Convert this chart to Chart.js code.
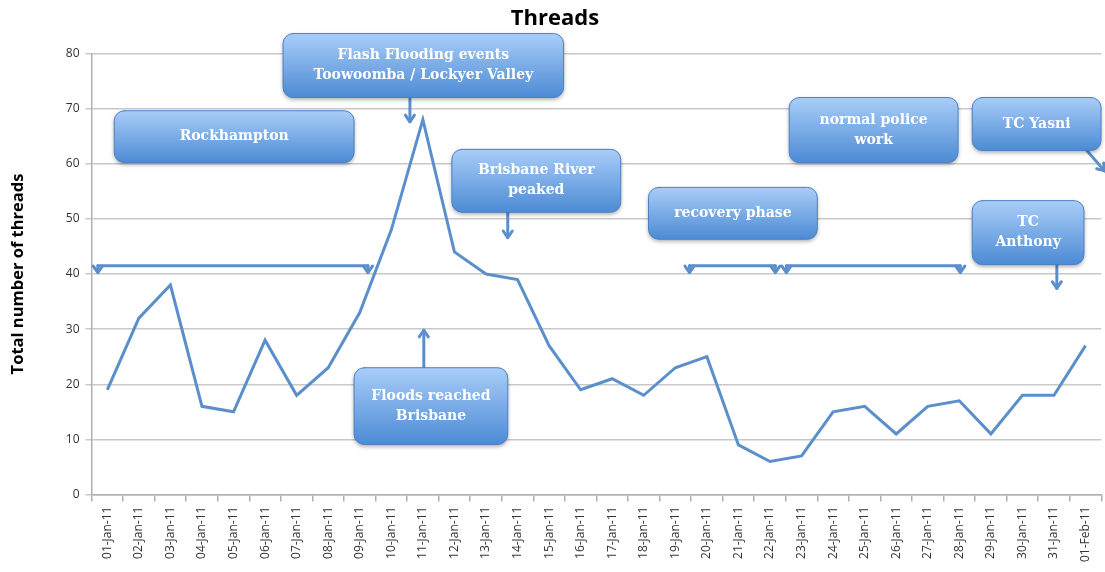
<!DOCTYPE html>
<html>
<head>
<meta charset="utf-8">
<script src="https://cdn.jsdelivr.net/npm/chart.js@4.4.1/dist/chart.umd.min.js"></script>
<style>
  html, body { margin: 0; padding: 0; background: #fff; }
  #wrap { width: 1105px; height: 572px; }
</style>
</head>
<body>
<div id="wrap"><canvas id="threadsChart"></canvas></div>
<script>
const dates = [
  '01-Jan-11', '02-Jan-11', '03-Jan-11', '04-Jan-11', '05-Jan-11', '06-Jan-11', '07-Jan-11', '08-Jan-11',
  '09-Jan-11', '10-Jan-11', '11-Jan-11', '12-Jan-11', '13-Jan-11', '14-Jan-11', '15-Jan-11', '16-Jan-11',
  '17-Jan-11', '18-Jan-11', '19-Jan-11', '20-Jan-11', '21-Jan-11', '22-Jan-11', '23-Jan-11', '24-Jan-11',
  '25-Jan-11', '26-Jan-11', '27-Jan-11', '28-Jan-11', '29-Jan-11', '30-Jan-11', '31-Jan-11', '01-Feb-11'
];
const threads = [19, 32, 38, 16, 15, 28, 18, 23, 33, 48, 68, 44, 40, 39, 27, 19,
                 21, 18, 23, 25, 9, 6, 7, 15, 16, 11, 16, 17, 11, 18, 18, 27];

// callout boxes, in axis units (x = day index, y = threads)
const callouts = [
  { lines: ['Rockhampton'], x0: 0.22, x1: 7.82, y0: 69.6, y1: 60.2 },
  { lines: ['Flash Flooding events', 'Toowoomba / Lockyer Valley'], x0: 5.57, x1: 14.46, y0: 83.6, y1: 72.0 },
  { lines: ['Brisbane River', 'peaked'], x0: 10.92, x1: 16.27, y0: 62.6, y1: 51.2 },
  { lines: ['Floods reached', 'Brisbane'], x0: 7.82, x1: 12.69, y0: 23.0, y1: 9.1 },
  { lines: ['recovery phase'], x0: 17.15, x1: 22.5, y0: 55.7, y1: 46.3 },
  { lines: ['normal police', 'work'], x0: 21.61, x1: 26.96, y0: 72.0, y1: 60.2 },
  { lines: ['TC Yasni'], x0: 27.41, x1: 31.49, y0: 72.0, y1: 62.4 },
  { lines: ['TC', 'Anthony'], x0: 27.41, x1: 30.95, y0: 53.3, y1: 41.7 }
];
// single arrows: from (x0,y0) to tip (x1,y1)
const arrows = [
  { x0: 9.59, y0: 72.0, x1: 9.59, y1: 67.6 },
  { x0: 12.69, y0: 51.2, x1: 12.69, y1: 46.6 },
  { x0: 10.03, y0: 23.0, x1: 10.03, y1: 29.8 },
  { x0: 30.09, y0: 41.7, x1: 30.09, y1: 37.4 },
  { x0: 31.04, y0: 62.4, x1: 31.6, y1: 58.7 }
];
// brackets: horizontal span with downward arrowheads at both ends
const brackets = [
  { x0: -0.3, x1: 8.26, y: 41.5 },
  { x0: 18.45, x1: 21.17, y: 41.5 },
  { x0: 21.52, x1: 27.03, y: 41.5 }
];

const blue = '#5b8fcb';

function arrowHead(ctx, tx, ty, ang) {
  const s = 8;
  ctx.beginPath();
  ctx.moveTo(tx - s * Math.cos(ang - 0.6), ty - s * Math.sin(ang - 0.6));
  ctx.lineTo(tx, ty);
  ctx.lineTo(tx - s * Math.cos(ang + 0.6), ty - s * Math.sin(ang + 0.6));
  ctx.stroke();
}

const calloutPlugin = {
  id: 'callouts',
  afterDraw(chart) {
    const ctx = chart.ctx;
    const xs = chart.scales.x, ys = chart.scales.y;
    ctx.save();
    ctx.strokeStyle = blue;
    ctx.lineWidth = 3;
    ctx.lineCap = 'round';
    ctx.lineJoin = 'round';

    brackets.forEach(b => {
      const a = xs.getPixelForValue(b.x0), c = xs.getPixelForValue(b.x1), y = ys.getPixelForValue(b.y);
      ctx.beginPath();
      ctx.moveTo(a, y);
      ctx.lineTo(c, y);
      ctx.stroke();
      ctx.beginPath();
      ctx.moveTo(a, y);
      ctx.lineTo(a, y + 6);
      ctx.moveTo(c, y);
      ctx.lineTo(c, y + 6);
      ctx.stroke();
      arrowHead(ctx, a, y + 7, Math.PI / 2);
      arrowHead(ctx, c, y + 7, Math.PI / 2);
    });

    arrows.forEach(r => {
      const ax = xs.getPixelForValue(r.x0), ay = ys.getPixelForValue(r.y0);
      const bx = xs.getPixelForValue(r.x1), by = ys.getPixelForValue(r.y1);
      ctx.beginPath();
      ctx.moveTo(ax, ay);
      ctx.lineTo(bx, by);
      ctx.stroke();
      arrowHead(ctx, bx, by, Math.atan2(by - ay, bx - ax));
    });

    callouts.forEach(c => {
      const left = xs.getPixelForValue(c.x0), right = xs.getPixelForValue(c.x1);
      const top = ys.getPixelForValue(c.y0), bottom = ys.getPixelForValue(c.y1);
      const grad = ctx.createLinearGradient(0, top, 0, bottom);
      grad.addColorStop(0, '#a9cdf8');
      grad.addColorStop(1, '#4c8bd5');
      ctx.save();
      ctx.shadowColor = 'rgba(0,0,0,0.35)';
      ctx.shadowBlur = 4;
      ctx.shadowOffsetY = 2;
      ctx.beginPath();
      ctx.roundRect(left, top, right - left, bottom - top, 10);
      ctx.fillStyle = grad;
      ctx.fill();
      ctx.restore();
      ctx.lineWidth = 1;
      ctx.strokeStyle = '#4a80c4';
      ctx.stroke();

      ctx.fillStyle = '#fff';
      ctx.font = 'bold 14px "DejaVu Serif"';
      ctx.textAlign = 'center';
      ctx.textBaseline = 'middle';
      const mid = (top + bottom) / 2, lh = 20;
      c.lines.forEach((t, i) => {
        ctx.fillText(t, (left + right) / 2, mid + (i - (c.lines.length - 1) / 2) * lh);
      });
      ctx.lineWidth = 3;
      ctx.strokeStyle = blue;
    });
    ctx.restore();
  }
};

new Chart(document.getElementById('threadsChart'), {
  type: 'line',
  data: {
    labels: dates,
    datasets: [{
      label: 'Threads',
      data: threads,
      borderColor: blue,
      borderWidth: 3,
      pointRadius: 0,
      tension: 0,
      fill: false
    }]
  },
  options: {
    responsive: true,
    maintainAspectRatio: false,
    animation: false,
    layout: { padding: { left: 8, right: 3, top: 0, bottom: 5 } },
    plugins: {
      legend: { display: false },
      tooltip: { enabled: false },
      title: {
        display: true,
        text: 'Threads',
        color: '#000',
        font: { family: 'Open Sans', size: 22, weight: 'bold' },
        padding: { top: 6, bottom: 21 }
      }
    },
    scales: {
      x: {
        offset: true,
        grid: { display: true, offset: true, drawOnChartArea: false, drawTicks: true, tickLength: 7, color: '#b0b0b0', lineWidth: 1.5 },
        border: { display: true, color: '#b0b0b0', width: 1.5 },
        ticks: {
          autoSkip: false,
          maxRotation: 90,
          minRotation: 90,
          color: '#333',
          font: { family: 'Open Sans', size: 12 },
          padding: 5
        }
      },
      y: {
        min: 0,
        max: 80,
        ticks: {
          stepSize: 10,
          color: '#333',
          font: { family: 'Open Sans', size: 12 },
          padding: 6
        },
        grid: { color: '#c8c8c8', lineWidth: 1.5, tickLength: 6 },
        border: { display: true, color: '#b0b0b0', width: 1.5 },
        title: {
          display: true,
          text: 'Total number of threads',
          color: '#000',
          font: { family: 'Open Sans', size: 16.5, weight: 'bold' },
          padding: { top: 0, bottom: 32 }
        }
      }
    }
  },
  plugins: [calloutPlugin]
});
</script>
</body>
</html>
